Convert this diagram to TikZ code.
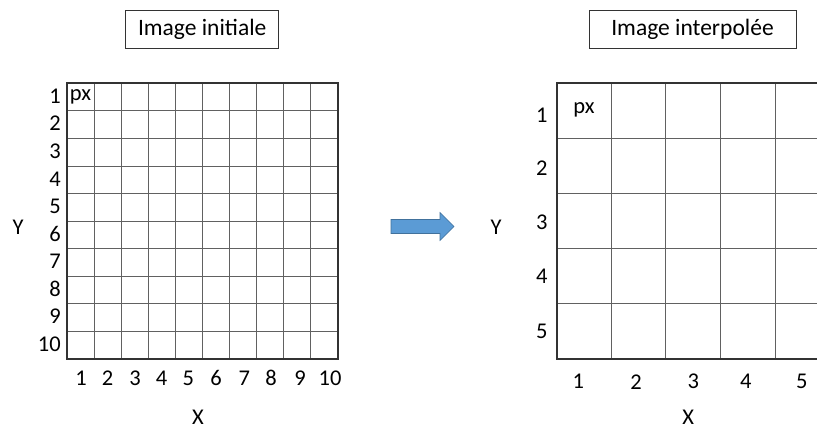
\documentclass[tikz,border=0pt]{standalone}
\usepackage{fontspec}
\setmainfont{Carlito}
\definecolor{arrowfill}{HTML}{5B9BD5}
\definecolor{arrowline}{HTML}{41719C}
\begin{document}
\begin{tikzpicture}[x=1pt,y=-1pt,
  lbl/.style={inner sep=0pt,font=\fontsize{22.5}{24}\selectfont},
  titlebox/.style={draw=black!80,line width=1pt,inner sep=0pt,font=\fontsize{23.5}{26}\selectfont},
  gridline/.style={draw=black!62,line width=0.9pt},
  border/.style={draw=black!80,line width=1.6pt},
  bigarrow/.style={fill=arrowfill,draw=arrowline,line width=0.6pt}]
\useasboundingbox (0,0) rectangle (817,430);

% ---------- left grid ----------
\def\Lx{67}\def\Lw{27.1}\def\Ly{83.3}\def\Lh{27.57}
\foreach \i in {1,...,9}{
  \draw[gridline] ({\Lx+\i*\Lw},\Ly) -- ({\Lx+\i*\Lw},{\Ly+10*\Lh});
  \draw[gridline] (\Lx,{\Ly+\i*\Lh}) -- ({\Lx+10*\Lw},{\Ly+\i*\Lh});
}
\draw[border] (\Lx,\Ly) rectangle ({\Lx+10*\Lw},{\Ly+10*\Lh});

\node[titlebox,minimum width=153pt,minimum height=38.3pt] (t1) at (202.2,29.2) {Image initiale};
\foreach \i in {1,...,10}{
  \node[lbl,anchor=east] (ly\i) at (61,{\Ly+(\i-0.5)*\Lh-1}) {\i};
}
\foreach \i/\xx in {1/81,2/107.7,3/135,4/161.7,5/188.3,6/216,7/244.3,8/271,9/300,10/330}{
  \node[lbl] (lx\i) at (\xx,378) {\i};
}
\node[lbl] (lpx) at (80.5,97) {px};
\node[lbl] (lY) at (18,227) {Y};
\node[lbl] (lX) at (198,417) {X};

% ---------- arrow ----------
\draw[bigarrow] (391,219.5) -- (440,219.5) -- (440,212.5) -- (454,226.5) -- (440,240.5) -- (440,233.5) -- (391,233.5) -- cycle;

% ---------- right grid ----------
\def\Rx{556.7}\def\Rw{54.6}\def\Rh{55.14}
\begin{scope}
\clip (540,70) rectangle (817,370);
\foreach \i in {1,...,4}{
  \draw[gridline] ({\Rx+\i*\Rw},\Ly) -- ({\Rx+\i*\Rw},{\Ly+5*\Rh});
  \draw[gridline] (\Rx,{\Ly+\i*\Rh}) -- (830,{\Ly+\i*\Rh});
}
\draw[border] (830,\Ly) -- (\Rx,\Ly) -- (\Rx,{\Ly+5*\Rh}) -- (830,{\Ly+5*\Rh});
\end{scope}

\node[titlebox,minimum width=207pt,minimum height=38.3pt] (t2) at (692.5,29.2) {Image interpolée};
\foreach \i/\yy in {1/115,2/168.3,3/222.7,4/276.7,5/331}{
  \node[lbl] (ry\i) at (541.7,\yy) {\i};
}
\foreach \i/\xx in {1/578.3,2/636,3/693.3,4/745.7,5/801.7}{
  \node[lbl] (rx\i) at (\xx,381.7) {\i};
}
\node[lbl] (rpx) at (584,110) {px};
\node[lbl] (rY) at (496,227) {Y};
\node[lbl] (rX) at (688.3,417) {X};
\end{tikzpicture}
\end{document}
